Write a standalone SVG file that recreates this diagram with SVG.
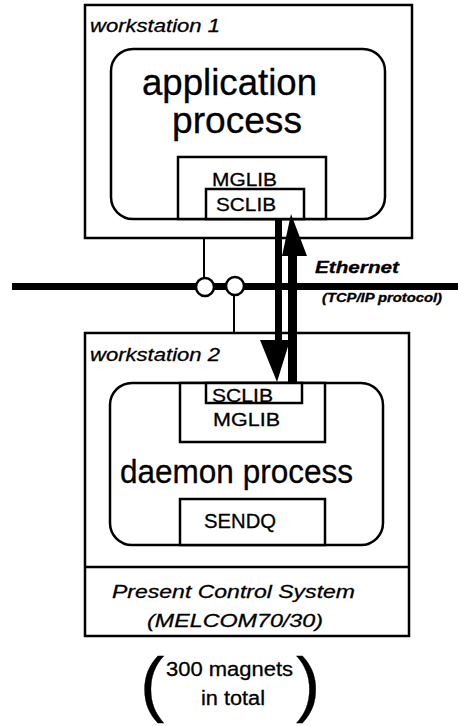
<svg xmlns="http://www.w3.org/2000/svg" width="458" height="726" viewBox="0 0 458 726">
<style>
.box{fill:none;stroke:#000;stroke-width:2.5}
.wbox{fill:#fff;stroke:#000;stroke-width:2.5}
.t{font-family:"Liberation Sans",Arial,sans-serif;fill:#000;stroke:#000;stroke-width:0.3}
.it{font-style:italic}
.wire{stroke:#000;stroke-width:2;fill:none}
.arrow{fill:#000;stroke:none}
</style>
<rect width="458" height="726" fill="#fff"/>
<g id="workstation1">
<rect class="box" x="85" y="5" width="327" height="233"/>
<text class="t it" x="90" y="32" font-size="19" textLength="130" lengthAdjust="spacingAndGlyphs">workstation 1</text>
</g>
<g id="application-process">
<rect class="box" x="111" y="49" width="274" height="170" rx="22"/>
<text class="t" x="142" y="95" font-size="36" textLength="175" lengthAdjust="spacingAndGlyphs">application</text>
<text class="t" x="172" y="133" font-size="36" textLength="130" lengthAdjust="spacingAndGlyphs">process</text>
</g>
<g id="mglib1">
<rect class="wbox" x="178" y="157" width="148" height="62"/>
<text class="t" x="212" y="186" font-size="19" textLength="65" lengthAdjust="spacingAndGlyphs">MGLIB</text>
</g>
<g id="sclib1">
<rect class="wbox" x="206" y="189" width="98" height="30"/>
<text class="t" x="216" y="211" font-size="19" textLength="60" lengthAdjust="spacingAndGlyphs">SCLIB</text>
</g>
<g id="workstation2">
<rect class="box" x="85" y="333" width="324" height="303"/>
<text class="t it" x="90" y="361" font-size="19" textLength="130" lengthAdjust="spacingAndGlyphs">workstation 2</text>
</g>
<g id="daemon-process">
<rect class="box" x="110" y="383" width="273" height="162" rx="22"/>
<text class="t" x="120" y="483" font-size="33" textLength="233" lengthAdjust="spacingAndGlyphs">daemon process</text>
</g>
<g id="mglib2">
<rect class="wbox" x="180" y="383" width="145" height="59"/>
<text class="t" x="213" y="426" font-size="19" textLength="67" lengthAdjust="spacingAndGlyphs">MGLIB</text>
</g>
<g id="sclib2">
<rect class="wbox" x="206" y="383" width="96" height="20"/>
<text class="t" x="212" y="402" font-size="19" textLength="61" lengthAdjust="spacingAndGlyphs">SCLIB</text>
</g>
<g id="sendq">
<rect class="wbox" x="180" y="499" width="145" height="46"/>
<text class="t" x="204" y="528" font-size="20" textLength="72" lengthAdjust="spacingAndGlyphs">SENDQ</text>
</g>
<g id="present-control-system">
<line class="box" x1="85" y1="567" x2="409" y2="567"/>
<text class="t it" x="112" y="598" font-size="19" textLength="243" lengthAdjust="spacingAndGlyphs">Present Control System</text>
<text class="t it" x="147" y="627" font-size="19" textLength="176" lengthAdjust="spacingAndGlyphs">(MELCOM70/30)</text>
</g>
<g id="magnets">
<text class="t" x="140" y="708" font-size="73">(</text>
<text class="t" x="296" y="708" font-size="73">)</text>
<text class="t" x="166" y="676" font-size="20" textLength="127" lengthAdjust="spacingAndGlyphs">300 magnets</text>
<text class="t" x="201" y="705" font-size="20" textLength="64" lengthAdjust="spacingAndGlyphs">in total</text>
</g>
<g id="ethernet-label">
<text class="t it" x="315" y="273" font-size="17" font-weight="bold" textLength="84" lengthAdjust="spacingAndGlyphs">Ethernet</text>
<text class="t it" x="322" y="302" font-size="12" font-weight="bold" textLength="120" lengthAdjust="spacingAndGlyphs">(TCP/IP protocol)</text>
</g>
<g id="connectors">
<line x1="12" y1="286.5" x2="458" y2="286.5" stroke="#000" stroke-width="7"/>
<line class="wire" x1="204" y1="238" x2="204" y2="278"/>
<line class="wire" x1="234" y1="295" x2="234" y2="333"/>
<circle cx="205" cy="287" r="9" fill="#fff" stroke="#000" stroke-width="2.5"/>
<circle cx="235" cy="286" r="9" fill="#fff" stroke="#000" stroke-width="2.5"/>
<path class="arrow" d="M275,220 L282,220 L282,340 L290,340 L277,382 L260,340 L275,340 Z"/>
<path class="arrow" d="M288,383 L297,383 L297,256 L307,256 L291,214 L282,256 L288,256 Z"/>
</g>
</svg>
